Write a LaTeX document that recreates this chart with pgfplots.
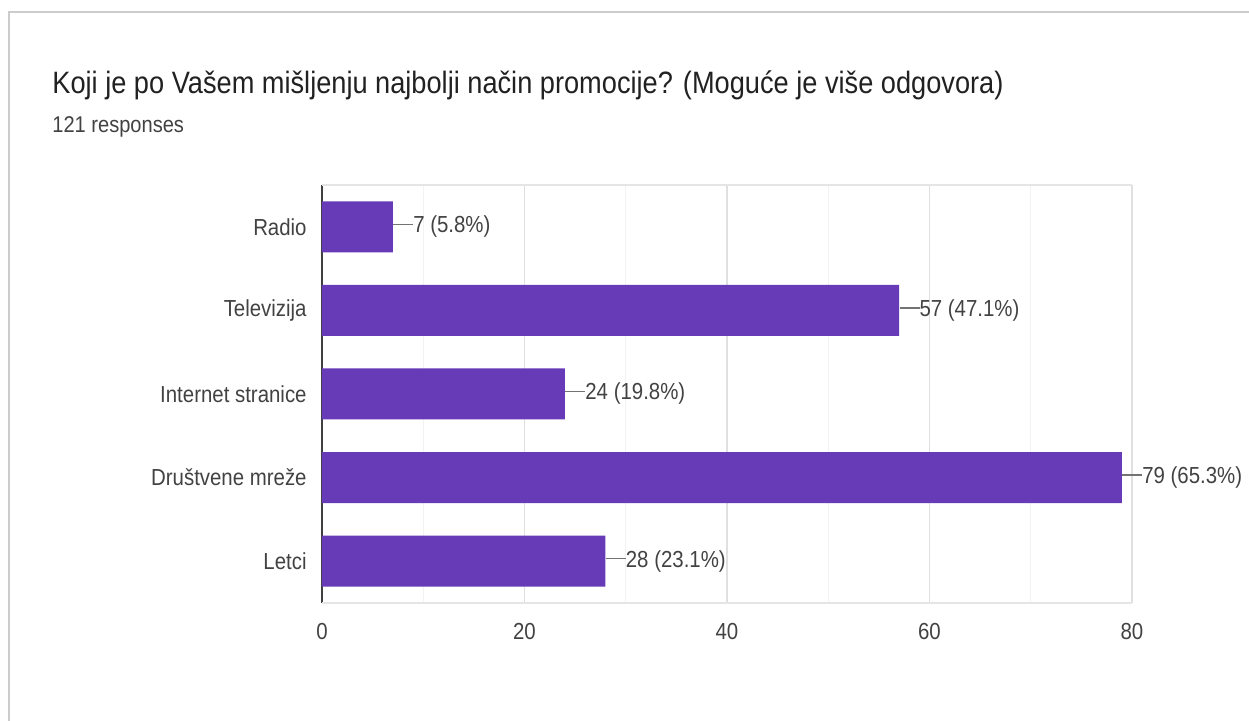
\documentclass[border=0pt]{standalone}
\usepackage{pgfplots}
\pgfplotsset{compat=1.18}
\usepackage{fontspec}
\setmainfont{Liberation Sans}[FakeStretch=0.88]
\definecolor{formpurple}{HTML}{673AB7}
\definecolor{txtdark}{HTML}{212121}
\definecolor{txtgray}{HTML}{424242}
\begin{document}
\begin{tikzpicture}
\useasboundingbox (0,0) rectangle (624.5pt,360.5pt);
% frame (cut off at right and bottom)
\draw[black!20, line width=1pt] (4.5pt,0) -- (4.5pt,354.5pt) -- (624.5pt,354.5pt);
\node[anchor=base west, inner sep=0pt, text=txtdark, font=\fontsize{15.45}{18}\selectfont]
  at (26pt,313.5pt) {Koji je po Vašem mišljenju najbolji način promocije? (Moguće je više odgovora)};
\node[anchor=base west, inner sep=0pt, text=txtgray, font=\fontsize{11.4}{13}\selectfont]
  at (26pt,294pt) {121 responses};
\begin{axis}[
at={(161pt,59pt)}, anchor=south west,
scale only axis,
width=405pt, height=209pt,
xmin=0, xmax=80,
ymin=-0.5, ymax=4.5,
y dir=reverse,
xtick={0,20,40,60,80},
minor x tick num=1,
ytick={0,1,2,3,4},
yticklabels={Radio,Televizija,Internet stranice,Društvene mreže,Letci},
axis line style={draw=none},
tick style={draw=none},
xmajorgrids, xminorgrids,
major grid style={draw=black!12, line width=0.6pt},
minor grid style={draw=black!5, line width=0.6pt},
extra x ticks={0},
extra x tick labels={},
extra x tick style={grid=major, major grid style={draw=black!75, line width=0.8pt}},
extra y ticks={-0.5,4.5},
extra y tick labels={},
extra y tick style={grid=major, major grid style={draw=black!10, line width=0.6pt}},
/pgf/number format/assume math mode=true,
tick label style={font=\fontsize{11.6}{13}\selectfont, text=txtgray},
xticklabel style={anchor=base, inner sep=0pt, yshift=-18.5pt},
yticklabel style={anchor=east, inner sep=0pt, xshift=-7.5pt},
]
\addplot[xbar, bar width=25.5pt, fill=formpurple, draw=none,
  point meta=explicit symbolic,
  nodes near coords,
  nodes near coords style={anchor=west, inner sep=0pt, text=txtgray,
    font=\fontsize{11.6}{13}\selectfont},
  nodes near coords={\textcolor{black!55}{\rule[0.34em]{10pt}{0.7pt}}\pgfplotspointmeta},
] coordinates {
(7,0) [7 (5.8\%)]
(57,1) [57 (47.1\%)]
(24,2) [24 (19.8\%)]
(79,3) [79 (65.3\%)]
(28,4) [28 (23.1\%)]
};
\end{axis}
\end{tikzpicture}
\end{document}
